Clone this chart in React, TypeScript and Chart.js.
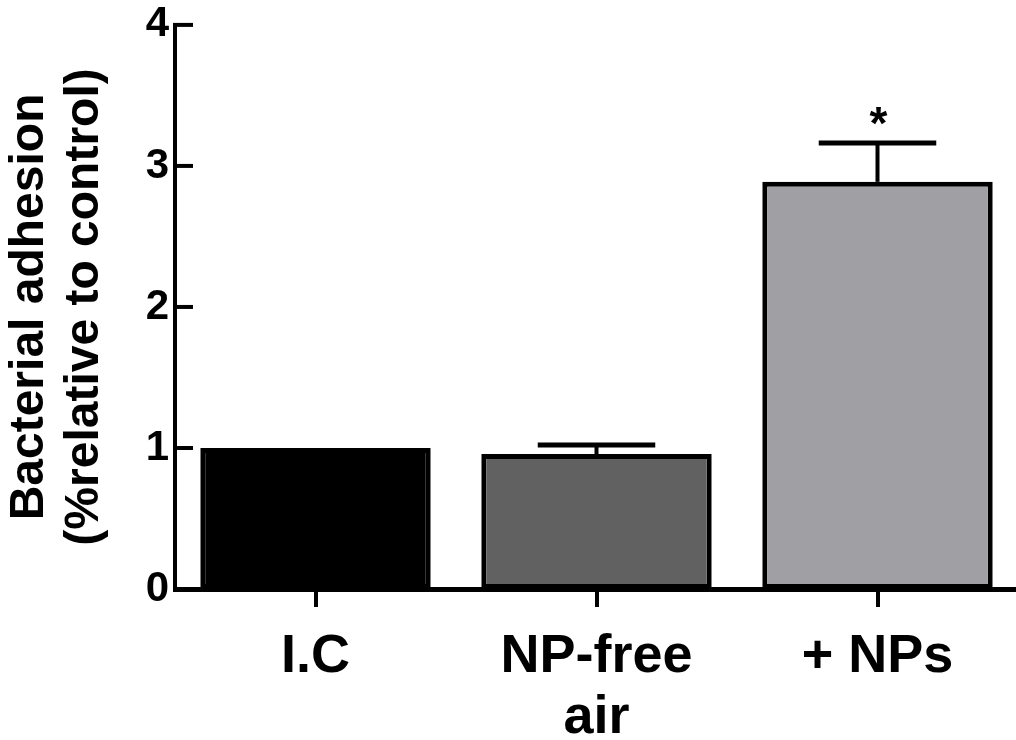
import React, { useEffect, useRef } from "react";
import { Chart, registerables } from "chart.js";

Chart.register(...registerables);

// ---- data ----
const categories: (string | string[])[] = ["I.C", ["NP-free", "air"], "+ NPs"];
const meanValues: number[] = [1.0, 0.957, 2.887];
const errorUpper: number[] = [0, 0.064, 0.276];
const significance: string[] = ["", "", "*"];
const barColors: string[] = ["#000000", "#616161", "#a09fa4"];
const yTickValues: number[] = [0, 1, 2, 3, 4];
const yTitleLines: string[] = ["Bacterial adhesion", "(%relative to control)"];

const FONT = "'Liberation Sans', Arial, Helvetica, sans-serif";

const errorBarPlugin = {
  id: "errorBars",
  afterDatasetsDraw(chart: any) {
    const meta = chart.getDatasetMeta(0);
    const y = chart.scales.y;
    const ctx = chart.ctx;
    ctx.save();
    ctx.strokeStyle = "#000";
    meta.data.forEach((bar: any, i: number) => {
      const err = errorUpper[i];
      const top = meanValues[i] + err;
      const yTop = y.getPixelForValue(top);
      if (err > 0) {
        const yBar = y.getPixelForValue(meanValues[i]);
        const half = bar.width * 0.255;
        ctx.lineWidth = 4;
        ctx.beginPath();
        ctx.moveTo(bar.x, yBar);
        ctx.lineTo(bar.x, yTop);
        ctx.stroke();
        ctx.lineWidth = 5;
        ctx.beginPath();
        ctx.moveTo(bar.x - half, yTop);
        ctx.lineTo(bar.x + half, yTop);
        ctx.stroke();
      }
      if (significance[i]) {
        ctx.fillStyle = "#000";
        ctx.font = `bold 46px ${FONT}`;
        ctx.textAlign = "center";
        ctx.textBaseline = "alphabetic";
        ctx.fillText(significance[i], bar.x + 1, yTop - 4);
      }
    });
    ctx.restore();
  },
  afterDraw(chart: any) {
    // inward y ticks
    const y = chart.scales.y;
    const left = chart.chartArea.left;
    const ctx = chart.ctx;
    ctx.save();
    ctx.strokeStyle = "#000";
    ctx.lineWidth = 4;
    yTickValues.forEach((v) => {
      if (v === 0) return;
      const py = y.getPixelForValue(v);
      ctx.beginPath();
      ctx.moveTo(left - 2, py);
      ctx.lineTo(left + 18, py);
      ctx.stroke();
    });
    ctx.restore();
  },
};

export default function App() {
  const ref = useRef<HTMLCanvasElement | null>(null);

  useEffect(() => {
    if (!ref.current) return;
    const chart = new Chart(ref.current, {
      type: "bar",
      data: {
        labels: categories as any,
        datasets: [
          {
            data: meanValues,
            backgroundColor: barColors,
            borderColor: "#000",
            borderWidth: 5,
            borderSkipped: false,
            barPercentage: 0.82,
            categoryPercentage: 1,
          },
        ],
      },
      options: {
        animation: false,
        responsive: false,
        layout: { padding: { top: 0, right: 2, left: 0, bottom: 0 } },
        plugins: {
          legend: { display: false },
          tooltip: { enabled: false },
        },
        scales: {
          x: {
            afterFit: (s: any) => {
              s.height = 151;
            },
            grid: {
              display: true,
              drawOnChartArea: false,
              drawTicks: true,
              tickLength: 18,
              lineWidth: 4,
              color: "#000",
              offset: false,
            },
            border: { display: true, color: "#000", width: 5 },
            ticks: {
              color: "#000",
              padding: 19,
              font: { family: FONT, size: 54, weight: "bold", lineHeight: 1.14 },
              maxRotation: 0,
            },
          },
          y: {
            min: 0,
            max: 4,
            afterFit: (s: any) => {
              s.width = 175;
            },
            afterBuildTicks: (s: any) => {
              s.ticks = yTickValues.map((v) => ({ value: v }));
            },
            grid: { display: false, drawTicks: false },
            border: { display: true, color: "#000", width: 4 },
            ticks: {
              color: "#000",
              padding: 6,
              font: { family: FONT, size: 42, weight: "bold", lineHeight: 0.9 },
            },
            title: {
              display: true,
              text: yTitleLines,
              color: "#000",
              padding: { top: 2, bottom: 0 },
              font: { family: FONT, size: 48, weight: "bold", lineHeight: 1.15 },
            },
          },
        },
      },
      plugins: [errorBarPlugin],
    } as any);
    return () => chart.destroy();
  }, []);

  return (
    <div
      style={{
        position: "absolute",
        left: 0,
        top: 0,
        width: 1016,
        height: 740,
        overflow: "hidden",
        background: "#fff",
      }}
    >
      <canvas ref={ref} width={1020} height={740} style={{ display: "block" }} />
    </div>
  );
}
